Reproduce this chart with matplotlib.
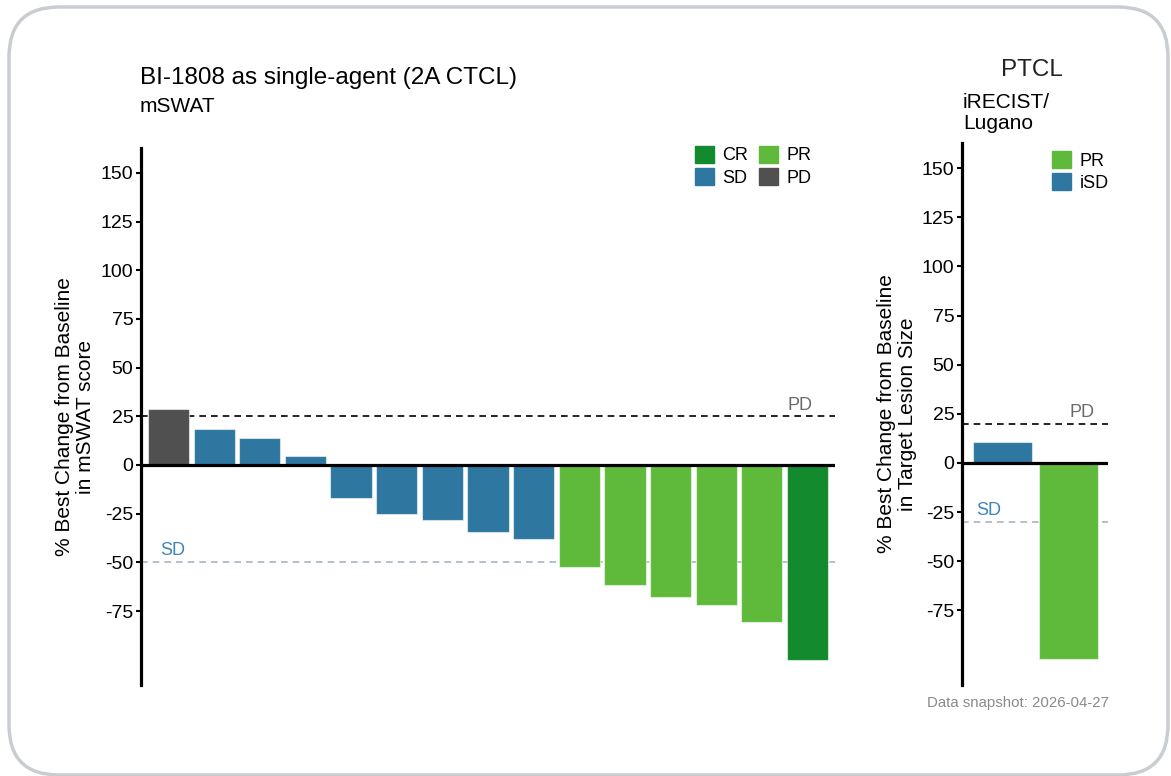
import matplotlib
matplotlib.use("Agg")
import matplotlib.pyplot as plt
from matplotlib.patches import FancyBboxPatch, Patch

plt.rcParams['font.family'] = ['Liberation Sans', 'DejaVu Sans']

# ---- data ----
ctcl_values = [29, 18.5, 13.7, 4.6, -16.8, -25.2, -28.2, -34.2, -38.2,
               -52.2, -61.6, -67.6, -72.0, -80.4, -100.0]
ctcl_response = ['PD', 'SD', 'SD', 'SD', 'SD', 'SD', 'SD', 'SD', 'SD',
                 'PR', 'PR', 'PR', 'PR', 'PR', 'CR']
ptcl_values = [10.5, -100.0]
ptcl_response = ['iSD', 'PR']
yticks = [150, 125, 100, 75, 50, 25, 0, -25, -50, -75]

colors = {'CR': '#138a2e', 'PR': '#5fba3c', 'SD': '#2e77a0',
          'iSD': '#2e77a0', 'PD': '#505050'}

W, H = 1171, 776
fig = plt.figure(figsize=(W / 100, H / 100), dpi=100)

# rounded frame drawn in pixel coordinates (y measured from bottom)
bg = fig.add_axes([0, 0, 1, 1], zorder=-5)
bg.set_xlim(0, W)
bg.set_ylim(0, H)
bg.axis('off')
bg.add_patch(FancyBboxPatch((9, H - 775), 1168 - 9, 775 - 7,
                            boxstyle="round,pad=0,rounding_size=50",
                            fill=False, edgecolor='#c9cdd1', linewidth=2.5,
                            clip_on=False))

def style_axis(ax):
    for s in ['top', 'right', 'bottom']:
        ax.spines[s].set_visible(False)
    ax.spines['left'].set_linewidth(2.3)
    ax.set_xticks([])
    ax.set_yticks(yticks)
    ax.set_yticklabels([str(t) for t in yticks])
    ax.tick_params(axis='y', length=3.5, width=1.5, labelsize=14, pad=2)
    ax.set_ylim(-113, 162.8)
    ax.axhline(0, color='black', lw=2.3, zorder=3)

# ---- left axes ----
ax1 = fig.add_axes([141 / W, 1 - 685 / H, 694 / W, (685 - 148) / H])
x1 = list(range(len(ctcl_values)))
ax1.bar(x1, ctcl_values, width=0.9,
        color=[colors[r] for r in ctcl_response],
        edgecolor=(1, 1, 1, 0.55), linewidth=0.8, zorder=2)
ax1.set_xlim(-0.6, len(ctcl_values) - 0.4)
style_axis(ax1)
ax1.axhline(25, color='black', lw=1.2, ls=(0, (4, 3)), zorder=1)
ax1.axhline(-50, color='#a9b5c3', lw=1.2, ls=(0, (4, 3)), zorder=1)
ax1.text(14.1, 26, 'PD', color='#6b6b6b', fontsize=13, ha='right', va='bottom')
ax1.text(-0.17, -48.5, 'SD', color='#3d84b8', fontsize=13, ha='left', va='bottom')
ax1.set_ylabel('% Best Change from Baseline\nin mSWAT score', fontsize=15,
               linespacing=1.1)
ax1.yaxis.set_label_coords(-46 / 694, 0.5)
ax1.legend(handles=[Patch(color=colors['CR'], label='CR'),
                    Patch(color=colors['SD'], label='SD'),
                    Patch(color=colors['PR'], label='PR'),
                    Patch(color=colors['PD'], label='PD')],
           ncol=2, loc='upper left', bbox_to_anchor=(0.783, 1.024),
           frameon=False, fontsize=13, handlelength=1.05,
           handleheight=1.05, handletextpad=0.45, columnspacing=0.6,
           labelspacing=0.2, borderaxespad=0.2)

fig.text(140 / W, 1 - 78 / H, 'BI-1808 as single-agent (2A CTCL)', fontsize=17.5,
         ha='left', va='center')
fig.text(140 / W, 1 - 106 / H, 'mSWAT', fontsize=15, ha='left', va='center')

# ---- right axes ----
ax2 = fig.add_axes([962 / W, 1 - 685 / H, 146 / W, (685 - 143) / H])
x2 = list(range(len(ptcl_values)))
ax2.bar(x2, ptcl_values, width=0.9,
        color=[colors[r] for r in ptcl_response],
        edgecolor=(1, 1, 1, 0.55), linewidth=0.8, zorder=2)
ax2.set_xlim(-0.62, 1.6)
style_axis(ax2)
ax2.axhline(20, color='black', lw=1.2, ls=(0, (4, 3)), zorder=1)
ax2.axhline(-30, color='#a9b5c3', lw=1.2, ls=(0, (4, 3)), zorder=1)
ax2.text(1.39, 21.5, 'PD', color='#6b6b6b', fontsize=13, ha='right', va='bottom')
ax2.text(-0.41, -28.5, 'SD', color='#3d84b8', fontsize=13, ha='left', va='bottom')
ax2.set_ylabel('% Best Change from Baseline\nin Target Lesion Size', fontsize=15,
               linespacing=1.1)
ax2.yaxis.set_label_coords(-45 / 146, 0.5)
ax2.legend(handles=[Patch(color=colors['PR'], label='PR'),
                    Patch(color=colors['iSD'], label='iSD')],
           ncol=1, loc='upper left', bbox_to_anchor=(0.545, 1.005),
           frameon=False, fontsize=13, handlelength=1.05,
           handleheight=1.05, handletextpad=0.45, labelspacing=0.2,
           borderaxespad=0.2)

fig.text(1032 / W, 1 - 70 / H, 'PTCL', fontsize=17.5, ha='center', va='center',
         color='#222222')
fig.text(963 / W, 1 - 113 / H, 'iRECIST/\nLugano', fontsize=15, ha='left',
         va='center', linespacing=1.15)

fig.text(1109 / W, 1 - 703 / H, 'Data snapshot: 2026-04-27', fontsize=10.8,
         color='#8a8a8a', ha='right', va='center')

fig.savefig('out.png', dpi=100)
